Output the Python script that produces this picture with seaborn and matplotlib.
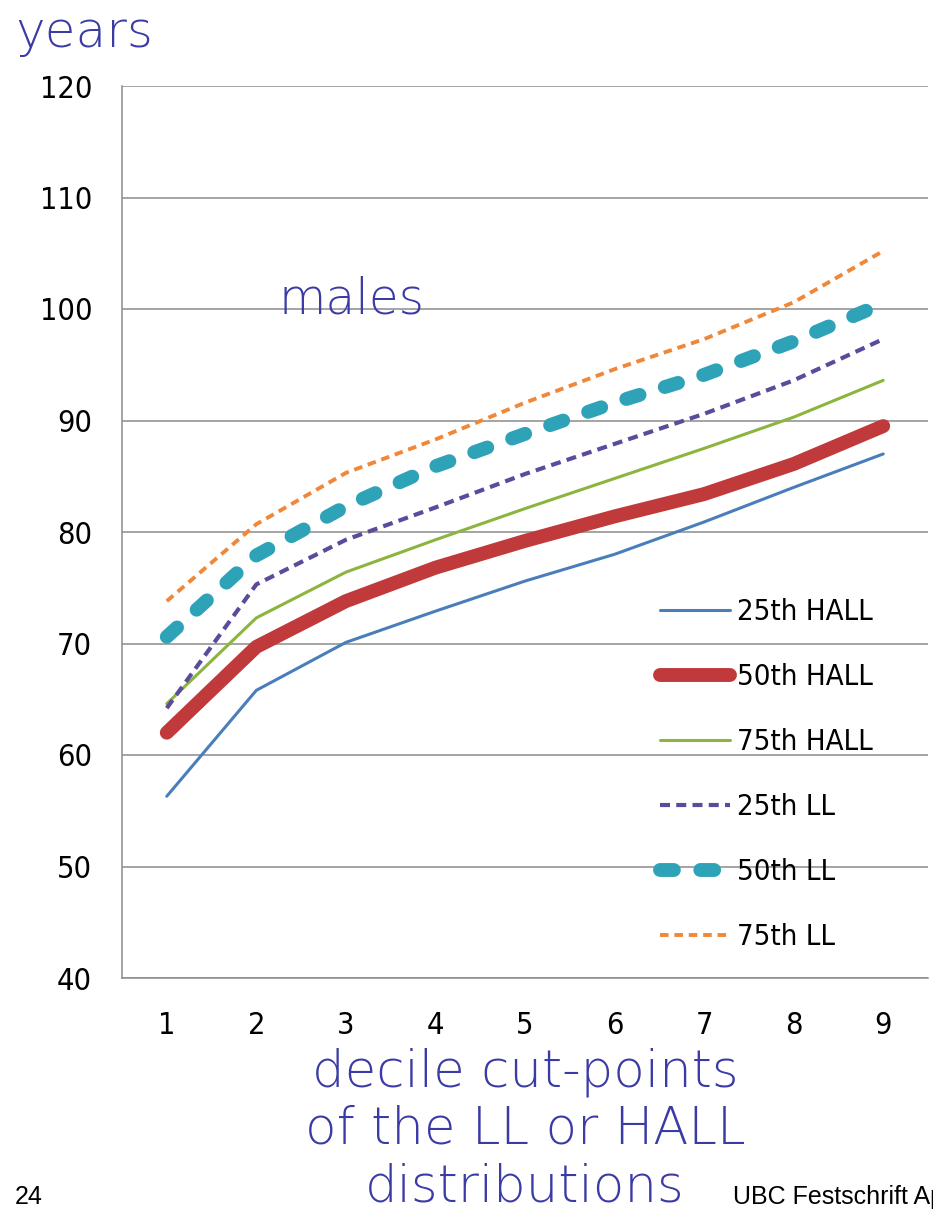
import pandas as pd
import seaborn as sns
from matplotlib import pyplot as plt

# decile cut-points, males
deciles = [1, 2, 3, 4, 5, 6, 7, 8, 9]
hall_25 = [56.3, 65.8, 70.1, 72.9, 75.6, 78.0, 80.9, 84.0, 87.0]
hall_50 = [62.0, 69.7, 73.8, 76.8, 79.2, 81.4, 83.4, 86.1, 89.5]
hall_75 = [64.6, 72.3, 76.4, 79.3, 82.1, 84.8, 87.5, 90.3, 93.6]
ll_25 = [64.2, 75.3, 79.3, 82.2, 85.2, 87.9, 90.6, 93.6, 97.3]
ll_50 = [70.6, 77.9, 82.3, 85.9, 88.8, 91.6, 94.1, 97.1, 100.5]
ll_75 = [73.8, 80.7, 85.3, 88.3, 91.6, 94.6, 97.3, 100.6, 105.2]
series_names = ['25th HALL', '50th HALL', '75th HALL', '25th LL', '50th LL', '75th LL']
y_ticks = [40, 50, 60, 70, 80, 90, 100, 110, 120]

data = pd.DataFrame({'decile': deciles, '25th HALL': hall_25, '50th HALL': hall_50,
                     '75th HALL': hall_75, '25th LL': ll_25, '50th LL': ll_50, '75th LL': ll_75})

sns.set_style('white')
title_font = ['DejaVu Sans']
blue_txt = '#3b3ba6'
tick_prop = dict(family='DejaVu Sans', stretch='condensed', size=22)
legend_prop = dict(family='DejaVu Sans', stretch='condensed', size=21)

styles = {
    '25th HALL': dict(color='#4a7ebb', lw=2.2, linestyle='-'),
    '50th HALL': dict(color='#c0393b', lw=10, linestyle='-', solid_capstyle='round'),
    '75th HALL': dict(color='#8db43e', lw=2.2, linestyle='-'),
    '25th LL': dict(color='#5e4a9c', lw=3, linestyle=(0, (2.4, 1.5))),
    '50th LL': dict(color='#2ea3b8', lw=10, linestyle=(0, (1.0, 1.9)), dash_capstyle='round'),
    '75th LL': dict(color='#f0883a', lw=2.8, linestyle=(0, (2.2, 1.5))),
}

fig = plt.figure(figsize=(9.33, 12.10), dpi=100)
ax = fig.add_axes([122 / 933, (1210 - 978) / 1210, 806 / 933, 892 / 1210])

handles = []
for name in series_names:
    sns.lineplot(data=data, x='decile', y=name, ax=ax, label=name, **styles[name])
    handles.append(ax.lines[-1])

ax.set_xlim(0.5, 9.5)
ax.set_ylim(40, 120)
ax.set_yticks(y_ticks)
ax.set_xticks(deciles)
ax.set_xticks([d - 0.5 for d in deciles] + [9.5], minor=True)
ax.tick_params(axis='x', which='major', length=0, pad=24, labelcolor='black')
ax.tick_params(axis='x', which='minor', length=7, width=1, color='#8c8c8c', direction='out')
ax.tick_params(axis='y', length=6.5, width=1, color='#8c8c8c', direction='out', pad=15,
               labelcolor='black')
for lab in ax.get_xticklabels() + ax.get_yticklabels():
    lab.set_fontproperties(tick_prop)
ax.yaxis.grid(True, color='#8c8c8c', lw=1.1)
ax.set_axisbelow(True)
for side in ['top', 'right']:
    ax.spines[side].set_visible(False)
for side in ['left', 'bottom']:
    ax.spines[side].set_color('#8c8c8c')
    ax.spines[side].set_linewidth(1.1)
ax.set_xlabel('')
ax.set_ylabel('')

leg = ax.legend(handles=handles, labels=series_names, loc='upper left',
                bbox_to_anchor=(660 / 933, 1 - 598 / 1210), bbox_transform=fig.transFigure,
                frameon=False, borderpad=0, borderaxespad=0, handlelength=2.4,
                handletextpad=0.25, labelspacing=1.27, prop=legend_prop)
for t in leg.get_texts():
    t.set_color('black')

fig.text(15 / 933, 1 - 47 / 1210, 'years', color=blue_txt, fontsize=36, family=title_font,
         fontweight='light', ha='left', va='baseline')
fig.text(352 / 933, 1 - 313 / 1210, 'males', color=blue_txt, fontsize=35, family=title_font,
         fontweight='light', ha='center', va='baseline')
fig.text(525 / 933, 1 - 1201 / 1210, 'decile cut-points\nof the LL or HALL\ndistributions',
         color=blue_txt, fontsize=37, family=title_font, fontweight='light', ha='center',
         va='baseline', linespacing=1.2)
fig.text(15 / 933, 1 - 1204 / 1210, '24', color='black', fontsize=18, family='Liberation Sans',
         ha='left', va='baseline')
fig.text(733 / 933, 1 - 1204 / 1210, 'UBC Festschrift April 2012', color='black', fontsize=18,
         family='Liberation Sans', ha='left', va='baseline')

plt.savefig('out.png', dpi=100)
